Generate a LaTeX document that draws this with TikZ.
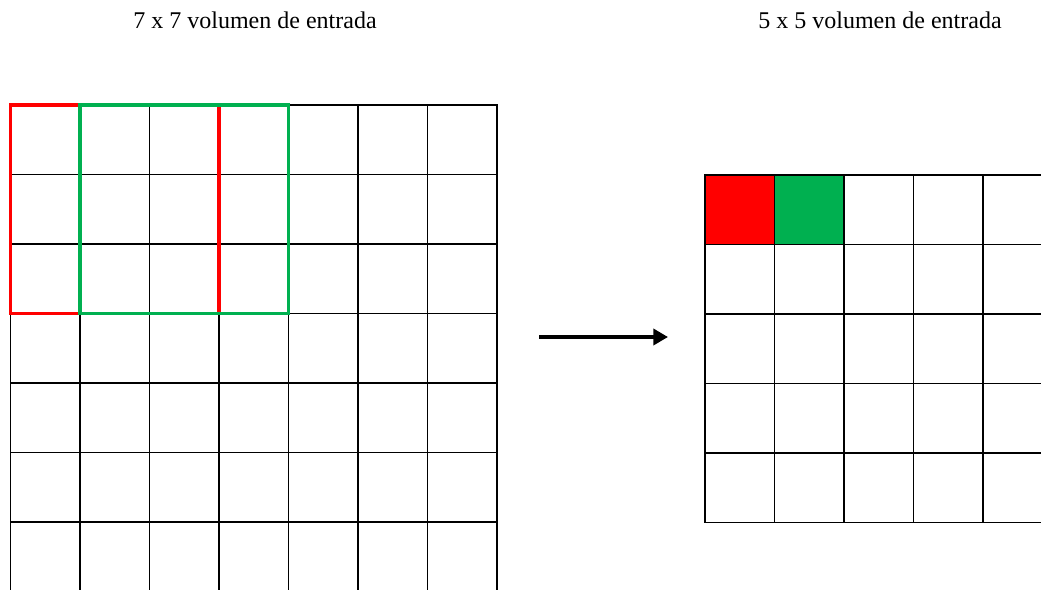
\documentclass[tikz,border=0pt]{standalone}
\usepackage{fontspec}
\setmainfont{Liberation Serif}
\usepackage{xcolor}
\usetikzlibrary{arrows.meta}
\definecolor{winred}{RGB}{255,0,0}
\definecolor{wingreen}{RGB}{0,176,80}

\begin{document}
\begin{tikzpicture}[x=0.75pt,y=-0.75pt,>={Triangle[length=11pt,width=12pt]},
  cell/.style={draw,line width=1.1pt,inner sep=0pt,outer sep=0pt,minimum size=52.1pt},
  title/.style={font=\fontsize{18}{20}\selectfont,inner sep=0pt},
  window/.style={line width=2.4pt}]
  \clip (0,0) rectangle (1041,589);
  \node[title] (tin) at (255,20) {7 x 7 volumen de entrada};
  \node[title] (tout) at (880,20) {5 x 5 volumen de entrada};
  % input grid 7x7
  \foreach \r in {0,...,6}
    \foreach \c in {0,...,6}
      \node[cell] (in-\r-\c) at ({45.25+69.5*\c},{139.75+69.5*\r}) {};
  % output grid 5x5
  \foreach \r in {0,...,4}
    \foreach \c in {0,...,4}
      \node[cell] (out-\r-\c) at ({739.75+69.5*\c},{209.75+69.5*\r}) {};
  \node[cell,fill=winred] (o-red) at (out-0-0) {};
  \node[cell,fill=wingreen] (o-green) at (out-0-1) {};
  % 3x3 windows
  \draw[window,winred] (in-0-0.north west) rectangle (in-2-2.south east);
  \draw[window,wingreen] (in-0-1.north west) rectangle (in-2-3.south east);
  % arrow
  \coordinate (arrA) at (539,337);
  \coordinate (arrB) at (668,337);
  \draw[->,line width=3.2pt] (arrA) -- (arrB);
\end{tikzpicture}
\end{document}
